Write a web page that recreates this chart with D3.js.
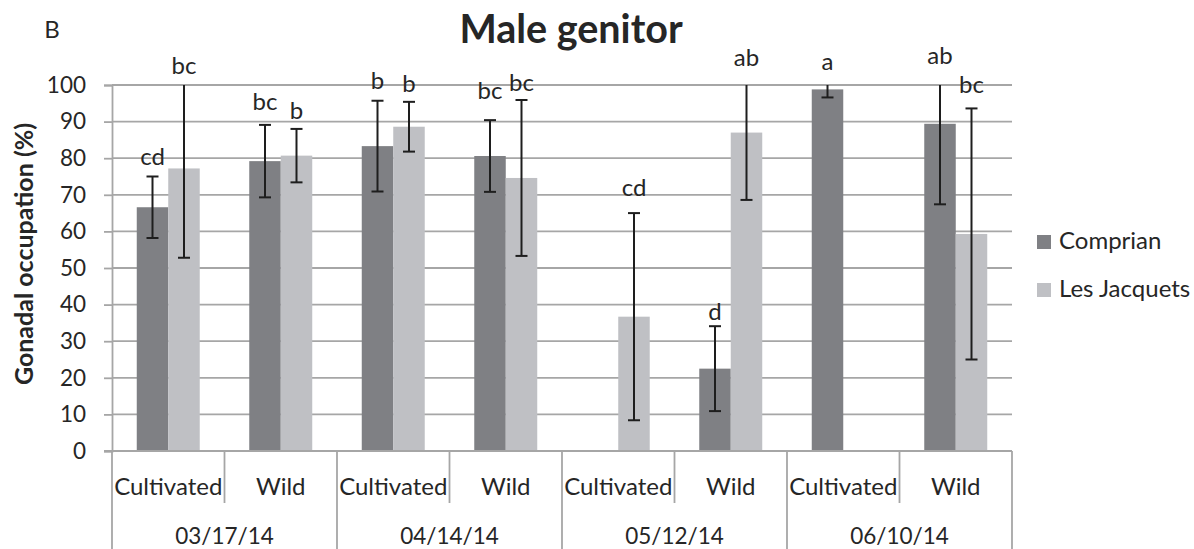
<!DOCTYPE html>
<html>
<head>
<meta charset="utf-8">
<script src="https://cdn.jsdelivr.net/npm/d3@7"></script>
<style>
  body { margin: 0; background: #fff; }
  svg { display: block; }
  text { font-family: Lato, "Open Sans", sans-serif; fill: #262626; }
</style>
</head>
<body>
<svg id="chart" width="1194" height="549"></svg>
<script>
// Sampling dates and parent origin within each date
const dates = ["03/17/14", "04/14/14", "05/12/14", "06/10/14"];
const origins = ["Cultivated", "Wild"];
const seriesNames = ["Comprian", "Les Jacquets"];

// Mean gonadal occupation (%) per date x origin, and error (+/-)
const comprianMean = [66.6, 79.2, 83.3, 80.6, null, 22.5, 98.8, 89.4];
const comprianErr  = [8.4, 9.9, 12.4, 9.8, null, 11.6, 2.2, 22.0];
const jacquetsMean = [77.2, 80.7, 88.6, 74.6, 36.7, 87.0, null, 59.3];
const jacquetsErr  = [24.4, 7.3, 6.8, 21.3, 28.3, 18.4, null, 34.3];

// Significance letters and the axis level at which each one sits
const comprianLetters  = ["cd", "bc", "b", "bc", null, "d", "a", "ab"];
const jacquetsLetters  = ["bc", "b", "b", "bc", "cd", "ab", null, "bc"];
const comprianLetterAt = [78.1, 93.2, 98.8, 96.1, null, 35.8, 104.1, 105.7];
const jacquetsLetterAt = [103.0, 90.7, 98.2, 98.4, 69.8, 105.3, null, 97.7];

const yTicks = [0, 10, 20, 30, 40, 50, 60, 70, 80, 90, 100];

// ---- layout ----
const svg = d3.select("#chart");
const plot = { left: 112, right: 1012, top: 85, bottom: 451 };
const colors = { "Comprian": "#7f8084", "Les Jacquets": "#bfc0c4" };
const gridColor = "#a6a6a6";
const inkColor = "#1e1e1e";
const numberSize = 22.5;
const wordSize = 24;

const categories = [];
dates.forEach(d => origins.forEach(o => categories.push(d + "|" + o)));

const series = [
  { name: seriesNames[0], mean: comprianMean, err: comprianErr, letters: comprianLetters, letterAt: comprianLetterAt },
  { name: seriesNames[1], mean: jacquetsMean, err: jacquetsErr, letters: jacquetsLetters, letterAt: jacquetsLetterAt }
];

const x = d3.scaleBand().domain(categories).range([plot.left, plot.right]).padding(0);
const xs = d3.scaleBand().domain(seriesNames).range([0, x.bandwidth()]).paddingInner(0).paddingOuter(0.786);
const xDate = d3.scaleBand().domain(dates).range([plot.left, plot.right]).padding(0);
const y = d3.scaleLinear().domain([0, 100]).range([plot.bottom, plot.top]);

// ---- gridlines and y axis ----
const yAxis = d3.axisLeft(y).tickValues(yTicks).tickSize(8).tickPadding(18).tickFormat(d3.format("d"));
const gy = svg.append("g").attr("transform", `translate(${plot.left},0)`).call(yAxis);
gy.select(".domain").attr("stroke", gridColor).attr("stroke-width", 1.8);
gy.selectAll(".tick line").attr("stroke", gridColor).attr("stroke-width", 1.8);
gy.selectAll(".tick text").attr("font-size", numberSize).attr("fill", "#262626")
  .style("font-family", "Lato, sans-serif");

svg.append("g").selectAll("line").data(yTicks.filter(t => t > 0)).join("line")
  .attr("x1", plot.left).attr("x2", plot.right)
  .attr("y1", d => y(d)).attr("y2", d => y(d))
  .attr("stroke", gridColor).attr("stroke-width", 1.8);

// ---- bars ----
const barLayer = svg.append("g");
series.forEach(s => {
  barLayer.append("g").selectAll("rect")
    .data(categories.map((c, i) => ({ c, v: s.mean[i] })).filter(d => d.v != null))
    .join("rect")
    .attr("x", d => x(d.c) + xs(s.name))
    .attr("width", xs.bandwidth())
    .attr("y", d => y(d.v))
    .attr("height", d => y(0) - y(d.v))
    .attr("fill", colors[s.name]);
});

// ---- error bars (clipped at the axis maximum, no cap where clipped) ----
const errLayer = svg.append("g").attr("stroke", inkColor).attr("stroke-width", 2);
const capHalf = 6;
series.forEach(s => {
  categories.forEach((c, i) => {
    if (s.mean[i] == null || s.err[i] == null) return;
    const cx = x(c) + xs(s.name) + xs.bandwidth() / 2;
    const hi = s.mean[i] + s.err[i];
    const lo = Math.max(0, s.mean[i] - s.err[i]);
    const hiC = Math.min(100, hi);
    errLayer.append("line").attr("x1", cx).attr("x2", cx).attr("y1", y(hiC)).attr("y2", y(lo));
    errLayer.append("line").attr("x1", cx - capHalf).attr("x2", cx + capHalf).attr("y1", y(lo)).attr("y2", y(lo));
    if (hi <= 100) {
      errLayer.append("line").attr("x1", cx - capHalf).attr("x2", cx + capHalf).attr("y1", y(hi)).attr("y2", y(hi));
    }
  });
});

// ---- significance letters ----
const letterLayer = svg.append("g").attr("text-anchor", "middle").attr("font-size", wordSize);
series.forEach(s => {
  categories.forEach((c, i) => {
    if (!s.letters[i]) return;
    letterLayer.append("text")
      .attr("x", x(c) + xs(s.name) + xs.bandwidth() / 2)
      .attr("y", y(s.letterAt[i]))
      .text(s.letters[i]);
  });
});

// ---- two-level category axis ----
const xAxisG = svg.append("g").attr("stroke", gridColor).attr("stroke-width", 1.8);
xAxisG.append("line").attr("x1", plot.left - 8).attr("x2", plot.right)
  .attr("y1", plot.bottom).attr("y2", plot.bottom);
// separators between origins inside a date
xAxisG.selectAll(".inner").data(categories.filter((c, i) => i % 2 === 1)).join("line")
  .attr("class", "inner")
  .attr("x1", d => x(d)).attr("x2", d => x(d))
  .attr("y1", plot.bottom).attr("y2", plot.bottom + 52);
// separators between dates, reaching the bottom edge
const dateEdges = dates.map(d => xDate(d)).concat([plot.right]);
xAxisG.selectAll(".outer").data(dateEdges).join("line")
  .attr("class", "outer")
  .attr("x1", d => d).attr("x2", d => d)
  .attr("y1", plot.bottom).attr("y2", 549);

svg.append("g").attr("text-anchor", "middle").attr("font-size", wordSize)
  .selectAll("text").data(categories).join("text")
  .attr("x", d => x(d) + x.bandwidth() / 2)
  .attr("y", plot.bottom + 44)
  .text(d => d.split("|")[1]);

svg.append("g").attr("text-anchor", "middle").attr("font-size", numberSize)
  .selectAll("text").data(dates).join("text")
  .attr("x", d => xDate(d) + xDate.bandwidth() / 2)
  .attr("y", 544)
  .text(d => d);

// ---- titles ----
svg.append("text").attr("x", 571).attr("y", 43).attr("text-anchor", "middle")
  .attr("font-size", 39.5).attr("font-weight", "bold").text("Male genitor");
svg.append("text").attr("x", 52).attr("y", 38).attr("text-anchor", "middle")
  .attr("font-size", wordSize).text("B");
svg.append("text")
  .attr("transform", `translate(33,254) rotate(-90)`)
  .attr("text-anchor", "middle").attr("font-size", 25).attr("font-weight", "bold")
  .text("Gonadal occupation (%)");

// ---- legend ----
const legend = svg.append("g").attr("transform", "translate(1037,235)");
seriesNames.forEach((n, i) => {
  const g = legend.append("g").attr("transform", `translate(0,${i * 48})`);
  g.append("rect").attr("width", 14).attr("height", 14).attr("fill", colors[n]);
  g.append("text").attr("x", 22).attr("y", 14).attr("font-size", wordSize).text(n);
});
</script>
</body>
</html>
